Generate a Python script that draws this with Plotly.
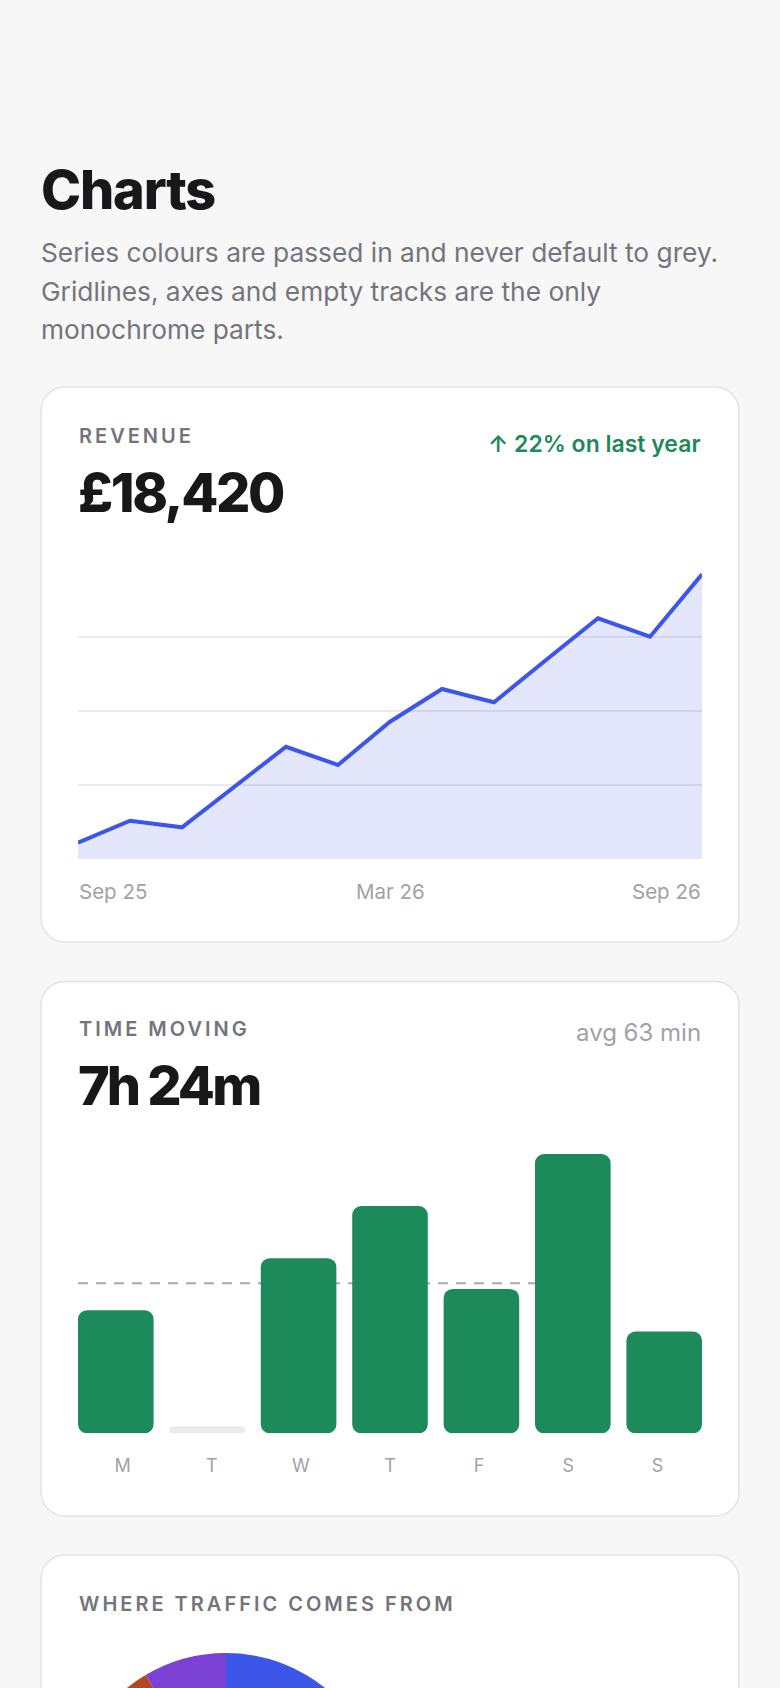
import plotly.graph_objects as go

# ---------------- data ----------------
months = ["Sep 25", "Oct 25", "Nov 25", "Dec 25", "Jan 26", "Feb 26", "Mar 26",
          "Apr 26", "May 26", "Jun 26", "Jul 26", "Aug 26", "Sep 26"]
revenue = [224, 520, 431, 978, 1517, 1271, 1854, 2295, 2116, 2686, 3248, 3000, 3841]
revenue_tick_labels = ["Sep 25", "Mar 26", "Sep 26"]
revenue_grid = [1000, 2000, 3000]
revenue_axis_max = 4000

days = ["M", "T", "W", "T", "F", "S", "S"]
minutes = [52, 0, 74, 96, 61, 118, 43]

traffic_sources = ["Search", "Direct", "Social", "Referral"]
traffic_share = [45, 26, 20.5, 8.5]

# ---------------- style ----------------
W, H = 780, 2040          # figure is taller than the window; page is clipped at 1688
BG = "#f7f7f7"
INK = "#18181b"
MUTED = "#74747c"
FAINT = "#a1a1aa"
BLUE = "#3d56ea"
GREEN = "#1c8a5a"
BROWN = "#b5461f"
PURPLE = "#7b41d4"
FONT = "Inter"


def px(x):
    return x / W


def py(y):
    return 1 - y / H


def card_path(x0, y0, x1, y1, r):
    k = 0.5523 * r
    pts = [
        f"M{px(x0 + r)},{py(y0)}",
        f"L{px(x1 - r)},{py(y0)}",
        f"C{px(x1 - r + k)},{py(y0)} {px(x1)},{py(y0 + r - k)} {px(x1)},{py(y0 + r)}",
        f"L{px(x1)},{py(y1 - r)}",
        f"C{px(x1)},{py(y1 - r + k)} {px(x1 - r + k)},{py(y1)} {px(x1 - r)},{py(y1)}",
        f"L{px(x0 + r)},{py(y1)}",
        f"C{px(x0 + r - k)},{py(y1)} {px(x0)},{py(y1 - r + k)} {px(x0)},{py(y1 - r)}",
        f"L{px(x0)},{py(y0 + r)}",
        f"C{px(x0)},{py(y0 + r - k)} {px(x0 + r - k)},{py(y0)} {px(x0 + r)},{py(y0)}",
        "Z",
    ]
    return " ".join(pts)


def label(s, x, baseline, size, color, weight=400, anchor="left", ls=None, xref="paper"):
    if ls is not None:
        s = f'<span style="letter-spacing:{ls}px">{s}</span>'
    return dict(
        text=s, x=(x if xref != "paper" else px(x)), y=py(baseline + 0.2415 * size),
        xref=xref, yref="paper", xanchor=anchor, yanchor="bottom",
        showarrow=False, borderpad=0,
        font=dict(family=FONT, size=size, color=color, weight=weight),
    )


fig = go.Figure()

# ---------- revenue line ----------
fig.add_trace(go.Scatter(
    x=list(range(len(months))), y=revenue, mode="lines",
    line=dict(color=BLUE, width=4),
    fill="tozeroy", fillcolor="rgba(61,86,234,0.14)",
    hoverinfo="skip", xaxis="x", yaxis="y", showlegend=False,
))

# ---------- time moving bars (a set base makes plotly round both ends) ----------
bar_x = list(range(len(days)))
plot2_h = 1433.3 - 1154.0
track_val = 7 * max(minutes) / plot2_h
track = [track_val if m == 0 else 0 for m in minutes]
eps = 1e-6

fig.add_trace(go.Bar(
    x=bar_x, y=minutes, base=[eps] * len(minutes),
    marker=dict(color=GREEN, cornerradius=9, line=dict(width=0)),
    xaxis="x2", yaxis="y2", hoverinfo="skip", showlegend=False,
))
fig.add_trace(go.Bar(
    x=bar_x, y=track, base=[eps] * len(track),
    marker=dict(color="#ebebed", cornerradius=3.5, line=dict(width=0)),
    xaxis="x2", yaxis="y2", hoverinfo="skip", showlegend=False,
))

# day labels sit in equal columns on their own overlaying axis
fig.add_trace(go.Scatter(
    x=bar_x, y=[None] * len(bar_x), mode="markers", xaxis="x3", yaxis="y2",
    hoverinfo="skip", showlegend=False,
))

avg_minutes = sum(minutes) / len(minutes)

# ---------- traffic pie ----------
cx, cy, r = 226, 1811, 158
fig.add_trace(go.Pie(
    labels=traffic_sources, values=traffic_share, sort=False,
    direction="clockwise", rotation=0, textinfo="none", hoverinfo="skip",
    marker=dict(colors=[BLUE, GREEN, BROWN, PURPLE], line=dict(width=0)),
    domain=dict(x=[px(cx - r), px(cx + r)], y=[py(cy + r), py(cy - r)]),
    showlegend=False,
))

# ---------- shapes ----------
shapes = []
for (x0, y0, x1, y1) in [(41, 387, 739, 942), (41, 981.5, 739, 1516), (41, 1555, 739, 2005)]:
    shapes.append(dict(type="path", path=card_path(x0, y0, x1, y1, 24),
                       xref="paper", yref="paper", fillcolor="#ffffff",
                       line=dict(color="#e4e4e7", width=1.5), layer="below"))
shapes.append(dict(type="line", xref="x2", yref="y2", x0=-0.4135, x1=5,
                   y0=avg_minutes, y1=avg_minutes, layer="below",
                   line=dict(color="#a9a9b1", width=2, dash="10px,8px")))

# ---------- text ----------
ann = [
    label("Charts", 40, 210, 54, INK, 800, ls=-1.2),
    label("Series colours are passed in and never default to grey.", 40, 263, 26.3, MUTED),
    label("Gridlines, axes and empty tracks are the only", 40, 301.5, 26.3, MUTED),
    label("monochrome parts.", 40, 340, 26.3, MUTED),

    label("REVENUE", 78, 444, 20, MUTED, 600, ls=3),
    label("£18,420", 77, 513, 54, INK, 800, ls=-2.4),
    label("↑ 22% on last year", 702, 453, 23, GREEN, 600, anchor="right"),

    label("TIME MOVING", 78, 1037, 20, MUTED, 600, ls=3),
    label("7h 24m", 77, 1106, 54, INK, 800, ls=-2.9),
    label("avg 63 min", 702, 1042, 24, FAINT, 400, anchor="right"),

    label("WHERE TRAFFIC COMES FROM", 78, 1612, 20, MUTED, 600, ls=3),
]
tick_idx = [months.index(t) for t in revenue_tick_labels]
for t, i, a in zip(revenue_tick_labels, tick_idx, ["left", "center", "right"]):
    ann.append(label(t, i, 900, 20.5, FAINT, 400, anchor=a, xref="x"))

fig.update_layout(
    width=W, height=H, margin=dict(l=0, r=0, t=0, b=0),
    paper_bgcolor=BG, plot_bgcolor="rgba(0,0,0,0)",
    font=dict(family=FONT),
    barmode="overlay", bargap=0.173,
    shapes=shapes, annotations=ann, showlegend=False,
    xaxis=dict(domain=[px(78), px(702)], range=[0, len(months) - 1], showgrid=False,
               zeroline=False, showticklabels=False, fixedrange=True),
    yaxis=dict(domain=[py(859.3), py(562.5)], range=[0, revenue_axis_max],
               tickvals=revenue_grid, showticklabels=False, gridcolor="#ebebeb",
               gridwidth=2, zeroline=False, fixedrange=True),
    xaxis2=dict(domain=[px(78), px(702)], anchor="y2", range=[-0.4135, 6.4135],
                showticklabels=False, showgrid=False, zeroline=False, ticks="",
                fixedrange=True),
    xaxis3=dict(domain=[px(78), px(702)], anchor="y2", overlaying="x2",
                range=[-0.5, 6.5], tickvals=bar_x, ticktext=days, showgrid=False,
                zeroline=False, ticks="", tickfont=dict(family=FONT, size=18, color=FAINT),
                ticklabelstandoff=20, fixedrange=True),
    yaxis2=dict(domain=[py(1433.3), py(1154)], anchor="x2", range=[0, max(minutes)],
                visible=False, fixedrange=True),
)

post = ("document.documentElement.style.margin='0';document.body.style.margin='0';"
        "document.body.style.overflow='hidden';"
        "var d=document.getElementById('{plot_id}');"
        "d.parentElement.style.height='1688px';d.parentElement.style.overflow='hidden';")
fig.write_html("out.html", config={"displayModeBar": False}, post_script=post)
